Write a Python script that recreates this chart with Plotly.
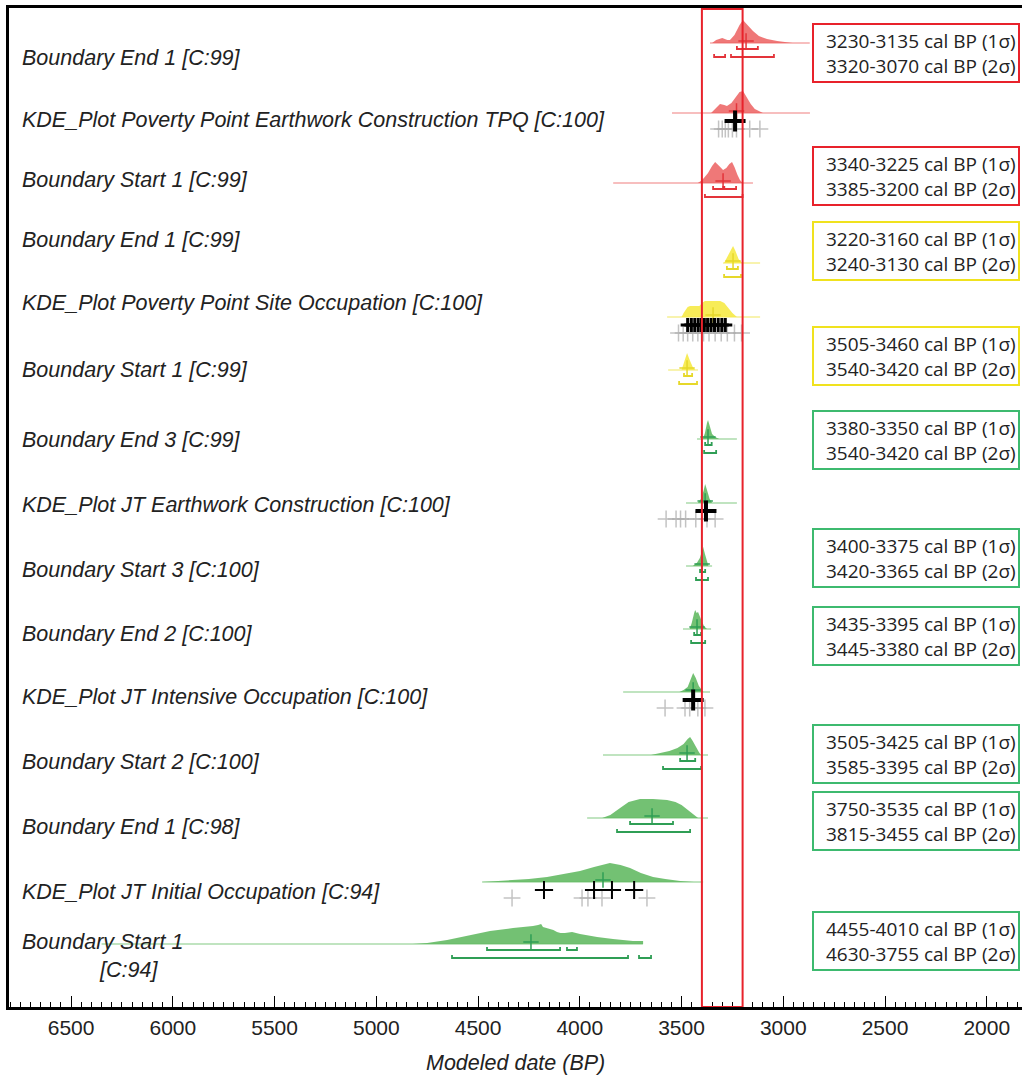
import plotly.graph_objects as go

# ---------------- data (years BP) ----------------
LABELS = [
    "Boundary End 1 [C:99]",
    "KDE_Plot Poverty Point Earthwork Construction TPQ [C:100]",
    "Boundary Start 1 [C:99]",
    "Boundary End 1 [C:99]",
    "KDE_Plot Poverty Point Site Occupation [C:100]",
    "Boundary Start 1 [C:99]",
    "Boundary End 3 [C:99]",
    "KDE_Plot JT Earthwork Construction [C:100]",
    "Boundary Start 3 [C:100]",
    "Boundary End 2 [C:100]",
    "KDE_Plot JT Intensive Occupation [C:100]",
    "Boundary Start 2 [C:100]",
    "Boundary End 1 [C:98]",
    "KDE_Plot JT Initial Occupation [C:94]",
    "Boundary Start 1",
]
GROUP = ["red"] * 3 + ["yellow"] * 3 + ["green"] * 9

# posterior density outlines: dates (BP) and relative heights
DENS_BP = [
    [3350, 3330, 3300, 3275, 3262, 3240, 3215, 3198, 3185, 3165, 3149, 3120, 3080, 3030, 2990, 2955],
    [3355, 3330, 3311, 3290, 3277, 3255, 3235, 3215, 3198, 3180, 3160, 3140, 3120, 3100],
    [3420, 3405, 3390, 3370, 3350, 3335, 3315, 3296, 3280, 3265, 3252, 3240, 3225, 3213, 3200],
    [3291, 3275, 3260, 3247, 3235, 3220, 3203],
    [3500, 3490, 3470, 3458, 3435, 3412, 3400, 3385, 3370, 3340, 3310, 3290, 3270, 3250, 3228],
    [3500, 3488, 3473, 3460, 3445, 3433],
    [3395, 3385, 3375, 3370, 3360, 3350, 3335, 3315],
    [3420, 3405, 3392, 3384, 3375, 3362, 3350],
    [3445, 3425, 3410, 3400, 3394, 3385, 3375, 3368],
    [3460, 3450, 3438, 3433, 3426, 3419, 3405, 3390, 3375],
    [3510, 3490, 3470, 3455, 3443, 3430, 3415, 3400, 3393],
    [3650, 3600, 3560, 3520, 3490, 3470, 3458, 3445, 3430, 3415, 3405],
    [3890, 3850, 3802, 3760, 3704, 3640, 3571, 3530, 3500, 3470, 3440, 3419],
    [4480, 4400, 4328, 4250, 4161, 4080, 3999, 3930, 3870, 3852, 3800, 3753, 3700, 3640, 3580, 3507, 3440],
    [4820, 4750, 4652, 4554, 4441, 4328, 4259, 4230, 4205, 4190, 4181, 4165, 4146, 4130, 4112, 4095,
     4073, 4038, 3999, 3915, 3837, 3739, 3689],
]
DENS_H = [
    [0, 3, 5, 3, 3, 8, 18, 23, 20, 15, 12, 7, 4, 2, 1, 0],
    [0, 5, 9, 8, 7, 10, 16, 21, 22, 16, 9, 4, 2, 0],
    [0, 2, 5, 10, 17, 21, 17, 13, 15, 19, 21, 16, 8, 3, 0],
    [0, 6, 13, 17, 12, 4, 0],
    [0, 4, 10, 11, 11, 11, 14, 16, 16, 16, 16, 14, 9, 4, 0],
    [0, 8, 17, 10, 3, 0],
    [0, 6, 16, 19, 12, 5, 2, 0],
    [0, 4, 12, 19, 13, 4, 0],
    [0, 3, 8, 15, 19, 12, 3, 0],
    [0, 6, 16, 19, 16, 17, 10, 3, 0],
    [0, 2, 5, 12, 19, 14, 6, 2, 0],
    [0, 2, 4, 7, 11, 16, 18, 14, 8, 3, 0],
    [0, 3, 10, 16, 19, 19, 18, 16, 13, 8, 3, 0],
    [0, 1, 2, 3, 5, 8, 11, 15, 18, 19, 17, 14, 9, 5, 3, 1, 0],
    [0, 1, 4, 8, 13, 16, 17, 18, 19, 20, 17, 16, 15, 14, 12, 11, 11, 12, 10, 7, 5, 3, 3],
]
# extent of the faint prior line for each row (BP)
LINE_SPAN = [
    [3360, 2870], [3547, 2869], [3836, 3149], [3296, 3114], [3571, 3114],
    [3566, 3419], [3424, 3228], [3478, 3228], [3478, 3350], [3493, 3355],
    [3787, 3360], [3886, 3370], [3964, 3370], [4480, 3394], [6350, 3690],
]
MEDIAN = [3183, 3230, 3296, 3247, 3345, 3473, 3370, 3384, 3399, 3424, 3443, 3473, 3645, 3886, 4240]
SIG1 = [
    [[3228, 3125]], [], [[3345, 3295], [3290, 3232]], [[3277, 3223]], [], [[3488, 3448]],
    [[3384, 3352]], [], [[3409, 3384]], [[3438, 3404]], [], [[3507, 3433]],
    [[3753, 3542]], [], [[4456, 4097], [4063, 4014]],
]
SIG2 = [
    [[3340, 3286], [3257, 3046]], [], [[3385, 3200]], [[3291, 3208]], [], [[3512, 3424]],
    [[3389, 3330]], [], [[3429, 3370]], [[3453, 3384]], [], [[3591, 3404]],
    [[3817, 3458]], [], [[4628, 3763], [3709, 3650]],
]
# dates entering the KDE plots (black = included, grey = underlying)
KDE_ROWS = [1, 4, 7, 10, 13]
KDE_BLACK = [
    [3237],
    [3470, 3452, 3435, 3418, 3402, 3388, 3372, 3355, 3338, 3320, 3302, 3285],
    [3380],
    [3443],
    [4176, 3930, 3842, 3733],
]
KDE_GRAY = [
    [3318, 3300, 3285, 3270, 3250, 3230, 3165, 3115],
    [3515, 3492, 3470, 3445, 3420, 3392, 3365, 3335, 3305, 3275, 3240, 3205],
    [3576, 3527, 3505, 3480, 3430, 3400, 3375, 3335],
    [3581, 3483, 3460, 3420, 3385],
    [4333, 3989, 3960, 3891, 3670],
]
HIGHLIGHT = [3400, 3200]

BOX_1S = ["3230-3135", "3340-3225", "3220-3160", "3505-3460", "3380-3350",
          "3400-3375", "3435-3395", "3505-3425", "3750-3535", "4455-4010"]
BOX_2S = ["3320-3070", "3385-3200", "3240-3130", "3540-3420", "3540-3420",
          "3420-3365", "3445-3380", "3585-3395", "3815-3455", "4630-3755"]
BOX_GROUP = ["red", "red", "yellow", "yellow", "green", "green", "green", "green", "green", "green"]

# ---------------- layout constants (pixel rows) ----------------
ROW_BASE = [43, 113, 183, 263, 317, 370, 439, 503, 566, 629, 692, 755, 818, 882, 944]
LABEL_Y = [58, 120, 180, 240, 303, 370, 440, 505, 570, 634, 697, 762, 827, 892, 942]
BOX_Y = [53, 176, 251, 356, 440, 558, 636, 754, 821, 941]
W, H = 1022, 1078
ML, MR, MT, MB = 9, 0, 8, 71
PLOT_BOTTOM = H - MB

FILL = {"red": "rgba(236,96,96,0.85)", "yellow": "rgba(246,234,70,0.9)", "green": "rgba(96,184,96,0.88)"}
THIN = {"red": "rgba(240,140,140,0.75)", "yellow": "rgba(244,236,120,0.8)", "green": "rgba(150,210,150,0.8)"}
DARK = {"red": "#e3343a", "yellow": "#e6d82a", "green": "#2f9e55"}
BOXC = {"red": "#e8222b", "yellow": "#f0e21e", "green": "#3dba6f"}

fig = go.Figure()

for i in range(len(LABELS)):
    g = GROUP[i]
    base = ROW_BASE[i]
    # faint prior line
    fig.add_trace(go.Scatter(x=LINE_SPAN[i], y=[base, base], mode="lines",
                             line=dict(color=THIN[g], width=1.5), hoverinfo="skip"))
    # filled density
    bp = DENS_BP[i]
    ys = [base - h for h in DENS_H[i]]
    fig.add_trace(go.Scatter(x=bp + [bp[-1], bp[0]], y=ys + [base, base], mode="lines",
                             fill="toself", fillcolor=FILL[g], line=dict(width=0), hoverinfo="skip"))
    # sigma brackets
    bx, by = [], []
    for segs, off in ((SIG1[i], 6), (SIG2[i], 14)):
        for a, b in segs:
            yy = base + off
            bx += [a, a, b, b, None]
            by += [yy - 3, yy, yy, yy - 3, None]
    if bx:
        fig.add_trace(go.Scatter(x=bx, y=by, mode="lines", line=dict(color=DARK[g], width=1.8),
                                 hoverinfo="skip"))
    # median cross
    fig.add_trace(go.Scatter(x=[MEDIAN[i]], y=[base - 2], mode="markers",
                             marker=dict(symbol="cross-thin", size=11,
                                         line=dict(color=DARK[g], width=1.5)), hoverinfo="skip"))

# KDE individual dates
for k, r in enumerate(KDE_ROWS):
    base = ROW_BASE[r]
    fig.add_trace(go.Scatter(x=KDE_GRAY[k], y=[base + 16] * len(KDE_GRAY[k]), mode="markers",
                             marker=dict(symbol="cross-thin", size=12,
                                         line=dict(color="rgba(170,170,170,0.7)", width=1.5)),
                             hoverinfo="skip"))
    n = len(KDE_BLACK[k])
    if n == 1:
        mk = dict(symbol="cross-thin", size=15, line=dict(color="black", width=4))
    elif n > 6:
        mk = dict(symbol="cross-thin", size=10, line=dict(color="black", width=3))
    else:
        mk = dict(symbol="cross-thin", size=13, line=dict(color="black", width=2))
    fig.add_trace(go.Scatter(x=KDE_BLACK[k], y=[base + 8] * n, mode="markers", marker=mk,
                             hoverinfo="skip"))

# highlight box
fig.add_shape(type="rect", xref="x", yref="y", x0=HIGHLIGHT[0], x1=HIGHLIGHT[1],
              y0=9, y1=PLOT_BOTTOM, line=dict(color="#e8222b", width=2))

def px_to_paper(px):
    return (px - ML) / (W - ML - MR)

def py_to_paper(py):
    return (PLOT_BOTTOM - py) / (PLOT_BOTTOM - MT)

LABEL_FONT = dict(family="Liberation Sans, Arial", size=21.5, color="#222", style="italic")

# row labels
for i, lab in enumerate(LABELS):
    fig.add_annotation(x=px_to_paper(20), y=LABEL_Y[i], xref="paper", yref="y", text=lab,
                       showarrow=False, xanchor="left", yanchor="middle", font=LABEL_FONT)
fig.add_annotation(x=px_to_paper(97), y=970, xref="paper", yref="y", text="[C:94]",
                   showarrow=False, xanchor="left", yanchor="middle", font=LABEL_FONT)

# range boxes
for j in range(len(BOX_1S)):
    c = BOX_Y[j]
    fig.add_shape(type="rect", xref="paper", yref="y", x0=px_to_paper(813), x1=px_to_paper(1019),
                  y0=c - 29, y1=c + 29, line=dict(color=BOXC[BOX_GROUP[j]], width=2))
    fig.add_annotation(x=px_to_paper(921), y=c, xref="paper", yref="y",
                       text=f"{BOX_1S[j]} cal BP (1σ)<br>{BOX_2S[j]} cal BP (2σ)",
                       showarrow=False, xanchor="center", yanchor="middle", align="center",
                       font=dict(family="Open Sans", size=19, color="#222"))

# axis title (below the plot area)
fig.add_annotation(x=px_to_paper(515), y=py_to_paper(1063), xref="paper", yref="paper",
                   text="Modeled date (BP)", showarrow=False, xanchor="center", yanchor="middle",
                   font=LABEL_FONT)

fig.update_layout(
    width=W, height=H, margin=dict(l=ML, r=MR, t=MT, b=MB),
    paper_bgcolor="white", plot_bgcolor="white", showlegend=False,
    xaxis=dict(range=[6805, 1827], tick0=0, dtick=500, ticks="inside", ticklen=11, tickwidth=1,
               tickcolor="black", showline=True, linewidth=3, linecolor="black", mirror=True,
               showgrid=False, zeroline=False,
               minor=dict(dtick=50, ticks="inside", ticklen=5, tickwidth=1, tickcolor="black"),
               tickfont=dict(family="Liberation Sans, Arial", size=21, color="#222")),
    yaxis=dict(range=[PLOT_BOTTOM, MT], showline=True, linewidth=3, linecolor="black",
               showticklabels=False, ticks="", showgrid=False, zeroline=False),
)

fig.write_html("out.html", config={"displayModeBar": False},
               post_script="document.body.style.margin='0px';document.body.style.overflow='hidden';")
